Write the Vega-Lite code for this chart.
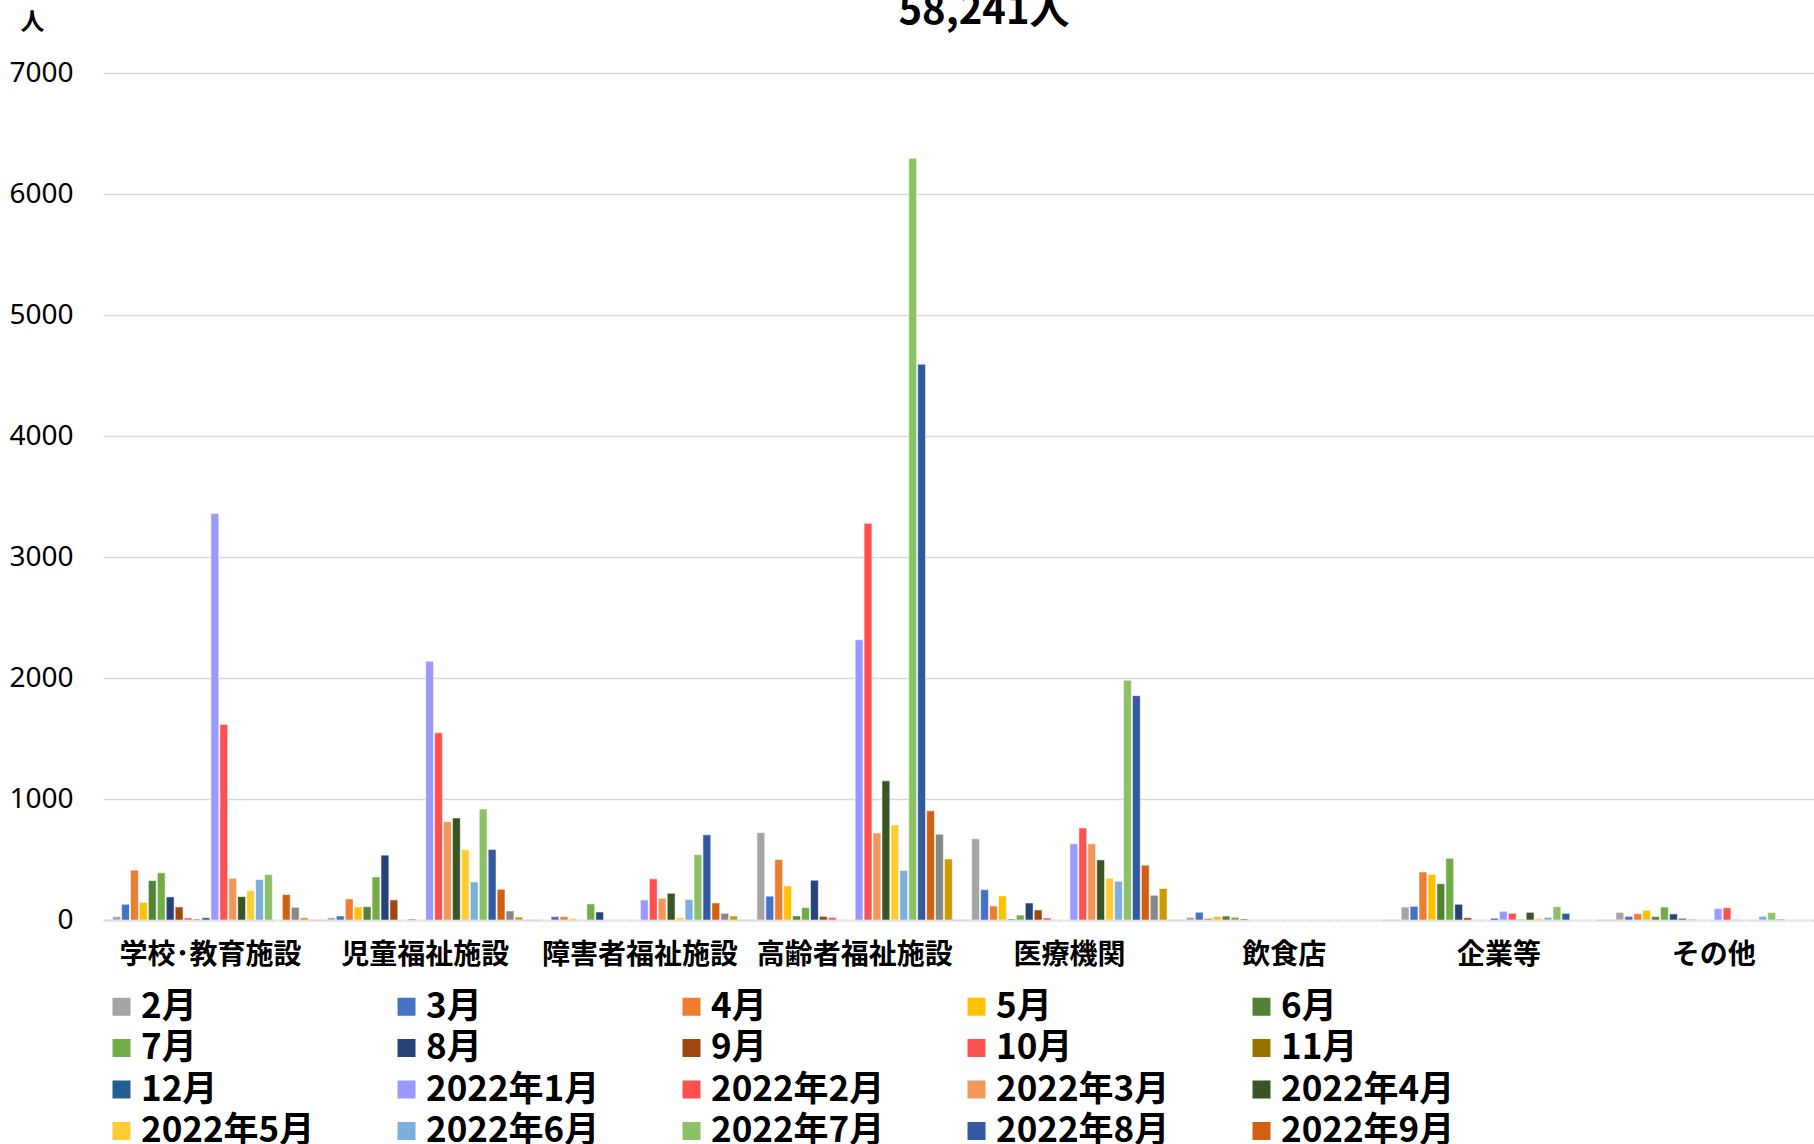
{
  "$schema": "https://vega.github.io/schema/vega-lite/v6.json",
  "width": 1718,
  "height": 847,
  "autosize": {"type": "none"},
  "padding": {"left": 103, "top": 73, "right": 0, "bottom": 224},
  "background": "white",
  "title": {"text": "58,241人", "fontSize": 40, "fontWeight": "bold", "font": "Noto Sans CJK JP", "color": "black", "anchor": "middle", "dx": 22, "baseline": "alphabetic", "offset": -54},
  "config": {"view": {"stroke": null}},
  "datasets": {
    "d": [
      {"c":"学校･教育施設","m":"2月","v":28},{"c":"学校･教育施設","m":"3月","v":130},{"c":"学校･教育施設","m":"4月","v":412},{"c":"学校･教育施設","m":"5月","v":146},{"c":"学校･教育施設","m":"6月","v":326},{"c":"学校･教育施設","m":"7月","v":390},{"c":"学校･教育施設","m":"8月","v":191},{"c":"学校･教育施設","m":"9月","v":108},{"c":"学校･教育施設","m":"10月","v":17},{"c":"学校･教育施設","m":"11月","v":8},{"c":"学校･教育施設","m":"12月","v":19},{"c":"学校･教育施設","m":"2022年1月","v":3359},{"c":"学校･教育施設","m":"2022年2月","v":1616},{"c":"学校･教育施設","m":"2022年3月","v":345},{"c":"学校･教育施設","m":"2022年4月","v":193},{"c":"学校･教育施設","m":"2022年5月","v":243},{"c":"学校･教育施設","m":"2022年6月","v":334},{"c":"学校･教育施設","m":"2022年7月","v":376},{"c":"学校･教育施設","m":"2022年8月","v":0},{"c":"学校･教育施設","m":"2022年9月","v":210},{"c":"学校･教育施設","m":"2022年10月","v":105},{"c":"学校･教育施設","m":"2022年11月","v":19},
      {"c":"児童福祉施設","m":"2月","v":19},{"c":"児童福祉施設","m":"3月","v":33},{"c":"児童福祉施設","m":"4月","v":174},{"c":"児童福祉施設","m":"5月","v":108},{"c":"児童福祉施設","m":"6月","v":110},{"c":"児童福祉施設","m":"7月","v":356},{"c":"児童福祉施設","m":"8月","v":536},{"c":"児童福祉施設","m":"9月","v":166},{"c":"児童福祉施設","m":"10月","v":0},{"c":"児童福祉施設","m":"11月","v":8},{"c":"児童福祉施設","m":"12月","v":0},{"c":"児童福祉施設","m":"2022年1月","v":2138},{"c":"児童福祉施設","m":"2022年2月","v":1547},{"c":"児童福祉施設","m":"2022年3月","v":812},{"c":"児童福祉施設","m":"2022年4月","v":843},{"c":"児童福祉施設","m":"2022年5月","v":580},{"c":"児童福祉施設","m":"2022年6月","v":315},{"c":"児童福祉施設","m":"2022年7月","v":917},{"c":"児童福祉施設","m":"2022年8月","v":583},{"c":"児童福祉施設","m":"2022年9月","v":254},{"c":"児童福祉施設","m":"2022年10月","v":75},{"c":"児童福祉施設","m":"2022年11月","v":25},
      {"c":"障害者福祉施設","m":"2月","v":0},{"c":"障害者福祉施設","m":"3月","v":28},{"c":"障害者福祉施設","m":"4月","v":28},{"c":"障害者福祉施設","m":"5月","v":11},{"c":"障害者福祉施設","m":"6月","v":0},{"c":"障害者福祉施設","m":"7月","v":133},{"c":"障害者福祉施設","m":"8月","v":66},{"c":"障害者福祉施設","m":"9月","v":0},{"c":"障害者福祉施設","m":"10月","v":0},{"c":"障害者福祉施設","m":"11月","v":0},{"c":"障害者福祉施設","m":"12月","v":0},{"c":"障害者福祉施設","m":"2022年1月","v":166},{"c":"障害者福祉施設","m":"2022年2月","v":340},{"c":"障害者福祉施設","m":"2022年3月","v":180},{"c":"障害者福祉施設","m":"2022年4月","v":221},{"c":"障害者福祉施設","m":"2022年5月","v":19},{"c":"障害者福祉施設","m":"2022年6月","v":169},{"c":"障害者福祉施設","m":"2022年7月","v":541},{"c":"障害者福祉施設","m":"2022年8月","v":704},{"c":"障害者福祉施設","m":"2022年9月","v":141},{"c":"障害者福祉施設","m":"2022年10月","v":55},{"c":"障害者福祉施設","m":"2022年11月","v":33},
      {"c":"高齢者福祉施設","m":"2月","v":722},{"c":"高齢者福祉施設","m":"3月","v":197},{"c":"高齢者福祉施設","m":"4月","v":500},{"c":"高齢者福祉施設","m":"5月","v":282},{"c":"高齢者福祉施設","m":"6月","v":34},{"c":"高齢者福祉施設","m":"7月","v":103},{"c":"高齢者福祉施設","m":"8月","v":329},{"c":"高齢者福祉施設","m":"9月","v":30},{"c":"高齢者福祉施設","m":"10月","v":21},{"c":"高齢者福祉施設","m":"11月","v":0},{"c":"高齢者福祉施設","m":"12月","v":0},{"c":"高齢者福祉施設","m":"2022年1月","v":2316},{"c":"高齢者福祉施設","m":"2022年2月","v":3278},{"c":"高齢者福祉施設","m":"2022年3月","v":718},{"c":"高齢者福祉施設","m":"2022年4月","v":1150},{"c":"高齢者福祉施設","m":"2022年5月","v":786},{"c":"高齢者福祉施設","m":"2022年6月","v":410},{"c":"高齢者福祉施設","m":"2022年7月","v":6295},{"c":"高齢者福祉施設","m":"2022年8月","v":4594},{"c":"高齢者福祉施設","m":"2022年9月","v":902},{"c":"高齢者福祉施設","m":"2022年10月","v":709},{"c":"高齢者福祉施設","m":"2022年11月","v":504},
      {"c":"医療機関","m":"2月","v":671},{"c":"医療機関","m":"3月","v":251},{"c":"医療機関","m":"4月","v":116},{"c":"医療機関","m":"5月","v":199},{"c":"医療機関","m":"6月","v":8},{"c":"医療機関","m":"7月","v":41},{"c":"医療機関","m":"8月","v":141},{"c":"医療機関","m":"9月","v":83},{"c":"医療機関","m":"10月","v":17},{"c":"医療機関","m":"11月","v":0},{"c":"医療機関","m":"12月","v":0},{"c":"医療機関","m":"2022年1月","v":630},{"c":"医療機関","m":"2022年2月","v":760},{"c":"医療機関","m":"2022年3月","v":630},{"c":"医療機関","m":"2022年4月","v":497},{"c":"医療機関","m":"2022年5月","v":345},{"c":"医療機関","m":"2022年6月","v":320},{"c":"医療機関","m":"2022年7月","v":1981},{"c":"医療機関","m":"2022年8月","v":1854},{"c":"医療機関","m":"2022年9月","v":453},{"c":"医療機関","m":"2022年10月","v":204},{"c":"医療機関","m":"2022年11月","v":260},
      {"c":"飲食店","m":"2月","v":22},{"c":"飲食店","m":"3月","v":64},{"c":"飲食店","m":"4月","v":14},{"c":"飲食店","m":"5月","v":28},{"c":"飲食店","m":"6月","v":33},{"c":"飲食店","m":"7月","v":22},{"c":"飲食店","m":"8月","v":8},{"c":"飲食店","m":"9月","v":0},{"c":"飲食店","m":"10月","v":0},{"c":"飲食店","m":"11月","v":0},{"c":"飲食店","m":"12月","v":0},{"c":"飲食店","m":"2022年1月","v":0},{"c":"飲食店","m":"2022年2月","v":0},{"c":"飲食店","m":"2022年3月","v":0},{"c":"飲食店","m":"2022年4月","v":0},{"c":"飲食店","m":"2022年5月","v":0},{"c":"飲食店","m":"2022年6月","v":0},{"c":"飲食店","m":"2022年7月","v":0},{"c":"飲食店","m":"2022年8月","v":0},{"c":"飲食店","m":"2022年9月","v":0},{"c":"飲食店","m":"2022年10月","v":0},{"c":"飲食店","m":"2022年11月","v":0},
      {"c":"企業等","m":"2月","v":107},{"c":"企業等","m":"3月","v":113},{"c":"企業等","m":"4月","v":397},{"c":"企業等","m":"5月","v":377},{"c":"企業等","m":"6月","v":300},{"c":"企業等","m":"7月","v":510},{"c":"企業等","m":"8月","v":130},{"c":"企業等","m":"9月","v":19},{"c":"企業等","m":"10月","v":0},{"c":"企業等","m":"11月","v":0},{"c":"企業等","m":"12月","v":14},{"c":"企業等","m":"2022年1月","v":72},{"c":"企業等","m":"2022年2月","v":55},{"c":"企業等","m":"2022年3月","v":8},{"c":"企業等","m":"2022年4月","v":63},{"c":"企業等","m":"2022年5月","v":14},{"c":"企業等","m":"2022年6月","v":22},{"c":"企業等","m":"2022年7月","v":110},{"c":"企業等","m":"2022年8月","v":55},{"c":"企業等","m":"2022年9月","v":0},{"c":"企業等","m":"2022年10月","v":0},{"c":"企業等","m":"2022年11月","v":0},
      {"c":"その他","m":"2月","v":63},{"c":"その他","m":"3月","v":30},{"c":"その他","m":"4月","v":52},{"c":"その他","m":"5月","v":80},{"c":"その他","m":"6月","v":28},{"c":"その他","m":"7月","v":107},{"c":"その他","m":"8月","v":50},{"c":"その他","m":"9月","v":14},{"c":"その他","m":"10月","v":6},{"c":"その他","m":"11月","v":0},{"c":"その他","m":"12月","v":0},{"c":"その他","m":"2022年1月","v":94},{"c":"その他","m":"2022年2月","v":102},{"c":"その他","m":"2022年3月","v":6},{"c":"その他","m":"2022年4月","v":0},{"c":"その他","m":"2022年5月","v":6},{"c":"その他","m":"2022年6月","v":30},{"c":"その他","m":"2022年7月","v":61},{"c":"その他","m":"2022年8月","v":6},{"c":"その他","m":"2022年9月","v":0},{"c":"その他","m":"2022年10月","v":0},{"c":"その他","m":"2022年11月","v":0}
    ]
  },
  "data": {"name": "d"},
  "mark": {"type": "bar", "stroke": "white", "strokeWidth": 0.8, "strokeOpacity": 0.7},
  "encoding": {
    "x": {
      "field": "c", "type": "nominal", "sort": null,
      "scale": {"paddingInner": 0.09, "paddingOuter": 0.045},
      "axis": {"title": null, "labelAngle": 0, "labelFont": "Noto Sans CJK JP", "labelFontSize": 28, "labelFontWeight": "bold", "labelColor": "black", "labelPadding": 21, "ticks": false, "domain": true, "domainColor": "#D9D9D9", "domainWidth": 2, "labelLimit": 300}
    },
    "xOffset": {
      "field": "m", "type": "nominal",
      "sort": ["2月","3月","4月","5月","6月","7月","8月","9月","10月","11月","12月","2022年1月","2022年2月","2022年3月","2022年4月","2022年5月","2022年6月","2022年7月","2022年8月","2022年9月","2022年10月","2022年11月"],
      "scale": {"paddingInner": 0.12, "paddingOuter": 0}
    },
    "y": {
      "field": "v", "type": "quantitative",
      "scale": {"domain": [0, 7000], "nice": false},
      "axis": {"values": [0,1000,2000,3000,4000,5000,6000,7000], "format": "d", "title": "人", "titleAngle": 0, "titleAlign": "left", "titleBaseline": "alphabetic", "titleX": -83, "titleY": -44, "titleFont": "Noto Sans CJK JP", "titleFontSize": 24, "titleFontWeight": "bold", "titleColor": "black", "labelFont": "Noto Sans", "labelFontSize": 28, "labelColor": "black", "labelPadding": 30, "ticks": false, "domain": false, "gridColor": "#D9D9D9", "gridWidth": 1.5}
    },
    "color": {
      "field": "m", "type": "nominal",
      "sort": ["2月","3月","4月","5月","6月","7月","8月","9月","10月","11月","12月","2022年1月","2022年2月","2022年3月","2022年4月","2022年5月","2022年6月","2022年7月","2022年8月","2022年9月","2022年10月","2022年11月"],
      "scale": {"range": ["#A5A5A5","#4472C4","#ED7D31","#FFC000","#548235","#70AD47","#264478","#9E480E","#FF5050","#997300","#255E91","#9999FF","#FF5050","#F1975A","#375623","#FFCD33","#7CAFDD","#8CC168","#335AA1","#D26012","#878787","#CC9A00"]},
      "legend": {"title": null, "orient": "none", "legendX": 1, "legendY": 916, "direction": "horizontal", "columns": 5, "gridAlign": "all", "columnPadding": 54, "rowPadding": 5.5, "symbolType": "square", "symbolSize": 324, "symbolStrokeWidth": 0, "labelFont": "Noto Sans CJK JP", "labelFontSize": 35, "labelFontWeight": "bold", "labelColor": "black", "labelOffset": 2, "labelLimit": 400}
    }
  }
}
